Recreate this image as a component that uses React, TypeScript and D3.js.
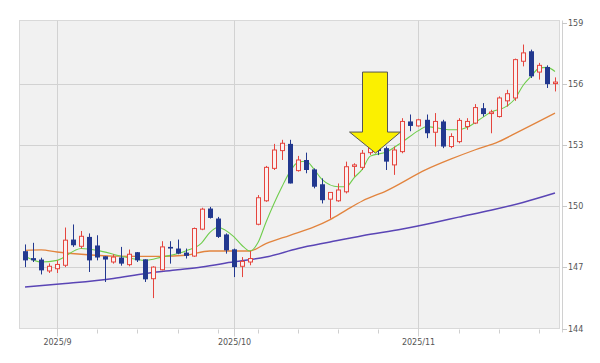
import { useEffect } from 'react';
import * as d3 from 'd3';

const W = 600;
const H = 363;

// trading days shown (Aug 26 - Nov 26, 2025)
const dates = [
  '2025-08-26', '2025-08-27', '2025-08-28', '2025-08-29',
  '2025-09-01', '2025-09-02', '2025-09-03', '2025-09-04', '2025-09-05',
  '2025-09-08', '2025-09-09', '2025-09-10', '2025-09-11', '2025-09-12',
  '2025-09-15', '2025-09-16', '2025-09-17', '2025-09-18', '2025-09-19',
  '2025-09-22', '2025-09-23', '2025-09-24', '2025-09-25', '2025-09-26',
  '2025-09-29', '2025-09-30',
  '2025-10-01', '2025-10-02', '2025-10-03',
  '2025-10-06', '2025-10-07', '2025-10-08', '2025-10-09', '2025-10-10',
  '2025-10-13', '2025-10-14', '2025-10-15', '2025-10-16', '2025-10-17',
  '2025-10-20', '2025-10-21', '2025-10-22', '2025-10-23', '2025-10-24',
  '2025-10-27', '2025-10-28', '2025-10-29', '2025-10-30', '2025-10-31',
  '2025-11-03', '2025-11-04', '2025-11-05', '2025-11-06', '2025-11-07',
  '2025-11-10', '2025-11-11', '2025-11-12', '2025-11-13', '2025-11-14',
  '2025-11-17', '2025-11-18', '2025-11-19', '2025-11-20', '2025-11-21',
  '2025-11-24', '2025-11-25', '2025-11-26',
];

const opens = [
  147.79, 147.45, 147.38, 146.82, 146.93, 147.1, 148.36, 148.03, 148.49, 148.07,
  147.54, 147.26, 147.48, 147.13, 147.74, 147.39, 146.44, 146.88, 148.0, 147.92,
  147.72, 147.55, 148.87, 149.88, 149.39, 148.61, 147.88, 147.05, 147.26, 149.11,
  150.26, 151.85, 152.72, 153.05, 151.74, 152.26, 151.8, 151.07, 150.34, 150.26,
  150.7, 151.95, 151.9, 152.62, 152.9, 152.84, 152.02, 152.67, 154.15, 153.93,
  154.23, 153.62, 154.15, 152.92, 153.16, 153.9, 154.07, 154.8, 154.54, 154.39,
  155.16, 155.3, 157.1, 157.59, 156.57, 156.82, 156.03,
];
const highs = [
  148.12, 148.2, 147.47, 147.19, 147.34, 148.95, 149.1, 148.78, 148.66, 148.57,
  147.54, 147.64, 148.0, 147.87, 147.75, 147.39, 147.05, 148.28, 148.28, 148.36,
  147.92, 148.95, 149.92, 149.96, 149.47, 148.66, 147.92, 147.5, 147.8, 150.54,
  151.97, 153.05, 153.25, 153.25, 152.46, 152.62, 151.85, 151.36, 150.67, 151.11,
  152.18, 152.1, 152.75, 153.0, 153.1, 152.92, 152.92, 154.31, 154.49, 154.28,
  154.49, 154.56, 154.23, 153.57, 154.31, 154.31, 155.0, 155.05, 154.72, 155.38,
  155.7, 157.23, 157.92, 157.67, 157.02, 156.9, 156.31,
];
const lows = [
  147.01, 147.26, 146.65, 146.72, 146.72, 147.01, 148.0, 147.92, 146.77, 147.34,
  146.28, 147.18, 147.08, 147.05, 147.26, 146.28, 145.49, 146.85, 147.18, 147.64,
  147.43, 147.51, 148.82, 149.39, 148.44, 147.67, 146.52, 146.52, 147.1, 149.06,
  150.21, 151.77, 152.26, 151.11, 151.69, 151.61, 150.87, 150.13, 149.39, 150.21,
  150.62, 151.44, 151.77, 152.51, 152.5, 151.77, 151.53, 152.59, 153.67, 153.9,
  153.33, 152.92, 152.84, 152.84, 153.08, 153.74, 154.02, 154.39, 153.57, 154.34,
  154.88, 155.16, 156.85, 156.28, 156.2, 155.79, 155.62,
];
const closes = [
  147.34, 147.34, 146.85, 147.05, 147.14, 148.33, 148.08, 148.52, 147.34, 147.48,
  147.38, 147.5, 147.18, 147.64, 147.34, 146.41, 147.01, 148.0, 147.92, 147.67,
  147.56, 148.9, 149.85, 149.42, 148.49, 147.83, 147.01, 147.29, 147.43, 150.41,
  151.9, 152.75, 153.08, 151.11, 152.26, 151.77, 150.95, 150.29, 150.67, 150.79,
  151.93, 152.02, 152.59, 152.84, 152.7, 152.18, 152.75, 154.15, 153.93, 154.23,
  153.57, 154.15, 152.92, 153.41, 154.2, 154.15, 154.83, 154.51, 154.61, 155.3,
  155.51, 157.18, 157.51, 156.36, 156.9, 155.98, 156.08,
];

// moving averages (day index -> value)
const maShortDays = [0, 2, 4, 7, 9, 12, 15, 17, 20, 22, 23, 24, 26, 27, 28, 29, 30, 32, 33, 34, 35, 36, 37, 39, 40, 41, 42, 43, 45, 47, 49, 50, 51, 53, 54, 55, 57, 58, 60, 61, 62, 63, 64, 65, 66];
const maShort = [147.54, 147.26, 147.34, 147.92, 147.83, 147.54, 147.34, 147.5, 147.8, 148.2, 148.7, 148.95, 148.5, 148.08, 147.8, 148.2, 149.2, 150.95, 151.69, 152.15, 152.2, 151.8, 151.3, 150.95, 150.95, 151.4, 151.8, 152.45, 152.65, 153.15, 153.7, 153.9, 153.85, 153.74, 153.74, 153.85, 154.35, 154.6, 154.9, 155.25, 155.9, 156.35, 156.75, 156.8, 156.6];
const maMidDays = [0, 2, 4, 7, 11, 14, 17, 20, 23, 28, 30, 33, 36, 38, 40, 42, 45, 50, 53, 56, 59, 61, 64, 66];
const maMid = [147.83, 147.85, 147.75, 147.64, 147.55, 147.54, 147.54, 147.59, 147.8, 147.8, 148.16, 148.57, 148.98, 149.34, 149.8, 150.25, 150.75, 151.8, 152.3, 152.75, 153.16, 153.55, 154.15, 154.56];
const maLongDays = [0, 5, 11, 15, 19, 22, 26, 30, 34, 38, 42, 47, 51, 54, 58, 62, 66];
const maLong = [146.03, 146.2, 146.45, 146.7, 146.88, 147.02, 147.27, 147.5, 147.92, 148.24, 148.55, 148.88, 149.2, 149.46, 149.8, 150.18, 150.64];

const yTicks = [144, 147, 150, 153, 156, 159];
const monthDates = ['2025-09-01', '2025-10-01', '2025-11-03'];
const monthLabels = ['2025/9', '2025/10', '2025/11'];
const weekDates = ['2025-09-08', '2025-09-15', '2025-09-22', '2025-09-29', '2025-10-06', '2025-10-13', '2025-10-20', '2025-10-27', '2025-11-10', '2025-11-17', '2025-11-24'];

const UP = '#e5453e';
const DOWN = '#22388f';

export default function App() {
  useEffect(() => {
    document.body.style.margin = '0';
  }, []);

  const x = d3.scaleBand().domain(dates).range([21, 559]);
  const y = d3.scaleLinear().domain([144, 159]).range([328.5, 22.5]);
  const cx = (d: string) => Math.round((x(d) ?? 0) + x.bandwidth() / 2) + 0.5;

  const line = (days: number[], vals: number[]) =>
    d3.line<number>()
      .x((_, i) => (x(dates[days[i]]) ?? 0) + x.bandwidth() / 2)
      .y(v => y(v))
      .curve(d3.curveMonotoneX)(vals) || '';

  const left = 19.5;
  const right = 559.5;
  const top = y(159);
  const bottom = y(144);

  // arrow annotation, tip just above the candle of Oct 27
  const tipX = cx(dates[44]) - 3;
  const tipY = y(152.6);
  const arrow = [
    [tipX - 13, tipY - 81], [tipX + 12, tipY - 81], [tipX + 12, tipY - 21],
    [tipX + 25, tipY - 21], [tipX, tipY], [tipX - 26, tipY - 21], [tipX - 13, tipY - 21],
  ].map(p => p.join(',')).join(' ');

  return (
    <svg width={W} height={H} style={{ display: 'block', background: '#fff' }} fontFamily="DejaVu Sans, sans-serif">
      <rect x={left} y={top - 2} width={right - left} height={bottom - top + 2} fill="#f1f1f1" stroke="#d9d9d9" />

      {yTicks.slice(1, -1).map(v => (
        <line key={v} x1={left} x2={right} y1={Math.round(y(v)) + 0.5} y2={Math.round(y(v)) + 0.5} stroke="#d2d2d2" />
      ))}
      {monthDates.map(d => (
        <line key={d} x1={cx(d)} x2={cx(d)} y1={top - 2} y2={bottom + 8} stroke="#d2d2d2" />
      ))}
      {weekDates.map(d => (
        <line key={d} x1={cx(d)} x2={cx(d)} y1={bottom + 1} y2={bottom + 5} stroke="#cfcfcf" />
      ))}
      <line x1={562.5} x2={562.5} y1={top - 2} y2={bottom + 4} stroke="#d0d0d0" />

      {yTicks.map(v => (
        <g key={v} transform={`translate(0,${Math.round(y(v)) + 0.5})`}>
          <line x1={562} x2={567} stroke="#c8c8c8" />
          <text x={568} dy="0.35em" fontSize={8} fill="#555">{v}</text>
        </g>
      ))}
      {monthDates.map((d, i) => (
        <text key={d} x={cx(d)} y={345} fontSize={8} fill="#555" textAnchor="middle">{monthLabels[i]}</text>
      ))}

      <path d={line(maLongDays, maLong)} fill="none" stroke="#5a45b5" strokeWidth={1.5} />
      <path d={line(maMidDays, maMid)} fill="none" stroke="#e2843e" strokeWidth={1.3} />
      <path d={line(maShortDays, maShort)} fill="none" stroke="#6fcd4c" strokeWidth={1.1} />

      {dates.map((d, i) => {
        const o = opens[i];
        const c = closes[i];
        const up = c >= o;
        const col = up ? UP : DOWN;
        const xc = cx(d);
        const yTop = y(Math.max(o, c));
        const yBot = y(Math.min(o, c));
        const h = Math.max(1.5, yBot - yTop);
        return (
          <g key={d}>
            <line x1={xc} x2={xc} y1={y(highs[i])} y2={y(lows[i])} stroke={col} strokeWidth={1} />
            {up ? (
              <rect x={xc - 2} y={yTop} width={4} height={h} fill="#fbf1f1" stroke={col} strokeWidth={1} />
            ) : (
              <rect x={xc - 2.5} y={yTop} width={5} height={h} fill={col} />
            )}
          </g>
        );
      })}

      <polygon points={arrow} fill="#fbf000" stroke="#555" strokeWidth={1} strokeLinejoin="miter" />
    </svg>
  );
}
